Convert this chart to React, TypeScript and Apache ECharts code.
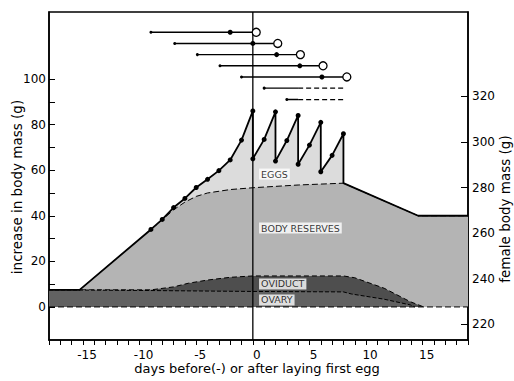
import React, { useEffect, useRef } from 'react';
import * as echarts from 'echarts';

// ---- data (days relative to first egg, increase in body mass in g) ----
const totalDays = [-18, -15.3, -9, -8, -7, -6, -5, -4, -3, -2, -1, 0, 0, 1, 2, 2, 3, 4, 4, 5, 6, 6, 7, 8, 8, 14.6, 19];
const totalMass = [7.5, 7.5, 34, 38.4, 43.6, 47.6, 52.4, 56, 59.8, 64.5, 73.2, 86, 65, 73.5, 85.6, 64, 73, 84, 62.6, 71, 81, 59.3, 66.5, 76, 54.3, 40, 40];
const totalDot = [0, 0, 1, 1, 1, 1, 1, 1, 1, 1, 1, 1, 1, 1, 1, 1, 1, 1, 1, 1, 1, 1, 1, 1, 0, 0, 0];

const reserveDays = [-18, -15.3, -9, -8, -7, -6, -5, -4, -2, 0, 4, 8, 14.6, 19];
const reserveMass = [7.5, 7.5, 34, 38.2, 42.6, 46, 48.5, 50, 51.5, 52.3, 53.5, 54.3, 40, 40];

const oviductDays = [-18, -9, -7, -5.7, -4, -2, 0, 8, 9, 11.6, 13.9, 15.1];
const oviductMass = [7.5, 7.5, 8.8, 10.4, 11.8, 13, 13.6, 13.6, 12.8, 8.2, 2.3, 0];

const ovaryDays = [-18, -9, 0, 8, 8.7, 11.6, 13.9, 14.3];
const ovaryMass = [7.5, 7.2, 6.8, 6.6, 5.7, 3.4, 0.9, 0];

// follicle cycle rows (top of chart)
const cycleLevel = [120.5, 115.6, 110.7, 105.8, 100.9, 96.0, 91.0];
const growthStart = [-9, -6.9, -4.9, -2.9, -1, 1, 3];
const ovulationDay = [-2, 0, 2.1, 4.15, 6.1];
const layingDay = [0.3, 2.2, 4.2, 6.2, 8.3];
const openSolidEnd = [4, 4];
const openDashEnd = [8, 8];

const areaLabels = ['EGGS', 'BODY RESERVES', 'OVIDUCT', 'OVARY'];
const areaLabelDay = [0.55, 0.55, 0.55, 0.55];
const areaLabelMass = [58.3, 34.6, 10.1, 3.1];

// ---- axes ----
const xMin = -18;
const xMax = 19;
const yMin = -14.5;
const yMax = 129.4;
const rightOffset = 227.6;
const xTickLabels = [-15, -10, -5, 0, 5, 10, 15];
const xTicks = [-18, -17, -16, -15, -14, -13, -12, -11, -10, -9, -8, -7, -6, -5, -4, -3, -2, -1, 0, 1, 2, 3, 4, 5, 6, 7, 8, 9, 10, 11, 12, 13, 14, 15, 16, 17, 18, 19];
const leftTickLabels = [0, 20, 40, 60, 80, 100];
const leftTicks = [0, 10, 20, 30, 40, 50, 60, 70, 80, 90, 100];
const rightTickLabels = [220, 240, 260, 280, 300, 320];

const FONT = 'DejaVu Sans';
const zip = (xs: number[], ys: number[]) => xs.map((x, i) => [x, ys[i]]);

function buildOption() {
  const series: any[] = [];
  series.push({
    type: 'line', data: zip(totalDays, totalMass), showSymbol: false, silent: true, z: 1,
    lineStyle: { width: 0 }, areaStyle: { color: '#dcdcdc', opacity: 1 },
  });
  series.push({
    type: 'line', data: zip(reserveDays, reserveMass), showSymbol: false, silent: true, z: 2,
    lineStyle: { color: '#000', width: 1, type: [6, 3] }, areaStyle: { color: '#b4b4b4', opacity: 1 },
  });
  series.push({
    type: 'line', data: zip(oviductDays, oviductMass), showSymbol: false, silent: true, z: 3,
    lineStyle: { color: '#000', width: 1, type: [5, 3] }, areaStyle: { color: '#4e4e4e', opacity: 1 },
  });
  series.push({
    type: 'line', data: zip(ovaryDays, ovaryMass), showSymbol: false, silent: true, z: 4,
    lineStyle: { color: '#000', width: 1, type: [4, 2] }, areaStyle: { color: '#626262', opacity: 1 },
  });
  series.push({
    type: 'line', data: [[xMin, 0], [xMax, 0]], showSymbol: false, silent: true, z: 5,
    lineStyle: { color: '#000', width: 1, type: [6, 3] },
  });
  series.push({
    type: 'line', silent: true, z: 6, symbol: 'circle', symbolSize: 5,
    itemStyle: { color: '#000' }, lineStyle: { color: '#000', width: 1.8 },
    data: totalDays.map((d, i) => totalDot[i]
      ? { value: [d, totalMass[i]] }
      : { value: [d, totalMass[i]], symbol: 'none' }),
  });
  series.push({
    type: 'line', data: [[0, yMin], [0, yMax]], showSymbol: false, silent: true, z: 6,
    lineStyle: { color: '#000', width: 1.3 },
  });
  for (let i = 0; i < layingDay.length; i++) {
    const y = cycleLevel[i];
    series.push({
      type: 'line', silent: true, z: 7, symbol: 'circle',
      lineStyle: { color: '#000', width: 1.4 }, itemStyle: { color: '#000' },
      data: [
        { value: [growthStart[i], y], symbolSize: 3 },
        { value: [ovulationDay[i], y], symbolSize: 5 },
        { value: [layingDay[i], y], symbolSize: 8, itemStyle: { color: '#fff', borderColor: '#000', borderWidth: 1.3 } },
      ],
    });
  }
  for (let j = 0; j < openSolidEnd.length; j++) {
    const i = layingDay.length + j;
    const y = cycleLevel[i];
    series.push({
      type: 'line', silent: true, z: 7, symbol: 'circle',
      lineStyle: { color: '#000', width: 1.4 }, itemStyle: { color: '#000' },
      data: [
        { value: [growthStart[i], y], symbolSize: 3 },
        { value: [openSolidEnd[j], y], symbol: 'none' },
      ],
    });
    series.push({
      type: 'line', silent: true, z: 7, showSymbol: false,
      lineStyle: { color: '#000', width: 1.2, type: [5, 3] },
      data: [[openSolidEnd[j], y], [openDashEnd[j], y]],
    });
  }
  series.push({
    type: 'scatter', silent: true, z: 8, symbolSize: 0,
    data: areaLabels.map((n, i) => ({ name: n, value: [areaLabelDay[i], areaLabelMass[i]] })),
    label: {
      show: true, formatter: '{b}', position: 'right', distance: 0,
      color: '#000', fontSize: 9.5, fontFamily: FONT,
      backgroundColor: '#fff', padding: [1, 2, 0, 2],
    },
  });

  return {
    animation: false,
    backgroundColor: '#fff',
    grid: { left: 49, right: 46, top: 12, bottom: 41, show: true, borderColor: '#000', borderWidth: 1.5, backgroundColor: 'transparent' },
    xAxis: {
      type: 'value', min: xMin, max: xMax, position: 'bottom',
      splitLine: { show: false },
      axisLine: { show: true, onZero: false, lineStyle: { color: '#000', width: 1.5 } },
      axisTick: { show: true, customValues: xTicks, length: 5, lineStyle: { color: '#000', width: 1 } },
      axisLabel: {
        customValues: xTickLabels, color: '#000', fontSize: 12, fontFamily: FONT, margin: 9,
        padding: [0, 0, 0, 8], formatter: (v: number) => String(v),
      },
    },
    yAxis: [
      {
        type: 'value', min: yMin, max: yMax, position: 'left',
        splitLine: { show: false },
        axisLine: { show: true, onZero: false, lineStyle: { color: '#000', width: 1.5 } },
        axisTick: { show: true, inside: true, customValues: leftTicks, length: 6, lineStyle: { color: '#000', width: 1 } },
        axisLabel: { customValues: leftTickLabels, color: '#000', fontSize: 12, fontFamily: FONT, margin: 3 },
      },
      {
        type: 'value', min: yMin + rightOffset, max: yMax + rightOffset, position: 'right',
        splitLine: { show: false },
        axisLine: { show: true, onZero: false, lineStyle: { color: '#000', width: 1.5 } },
        axisTick: { show: true, inside: true, customValues: rightTickLabels, length: 7, lineStyle: { color: '#000', width: 1 } },
        axisLabel: { customValues: rightTickLabels, color: '#000', fontSize: 12, fontFamily: FONT, margin: 4 },
      },
    ],
    graphic: [
      { type: 'text', x: 17, y: 187, rotation: Math.PI / 2, silent: true,
        style: { text: 'increase in body mass (g)', fill: '#000', font: `13.5px "${FONT}"`, textAlign: 'center', textVerticalAlign: 'middle' } },
      { type: 'text', x: 505, y: 209, rotation: Math.PI / 2, silent: true,
        style: { text: 'female body mass (g)', fill: '#000', font: `13.5px "${FONT}"`, textAlign: 'center', textVerticalAlign: 'middle' } },
      { type: 'text', x: 257, y: 368, silent: true,
        style: { text: 'days before(-) or after laying first egg', fill: '#000', font: `13px "${FONT}"`, textAlign: 'center', textVerticalAlign: 'middle' } },
    ],
    series,
  };
}

export default function App() {
  const ref = useRef<HTMLDivElement>(null);
  useEffect(() => {
    const chart = echarts.init(ref.current!, null, { renderer: 'svg' });
    chart.setOption(buildOption() as any);
    return () => chart.dispose();
  }, []);
  return <div ref={ref} style={{ position: 'fixed', left: 0, top: 0, width: 514, height: 381 }} />;
}
